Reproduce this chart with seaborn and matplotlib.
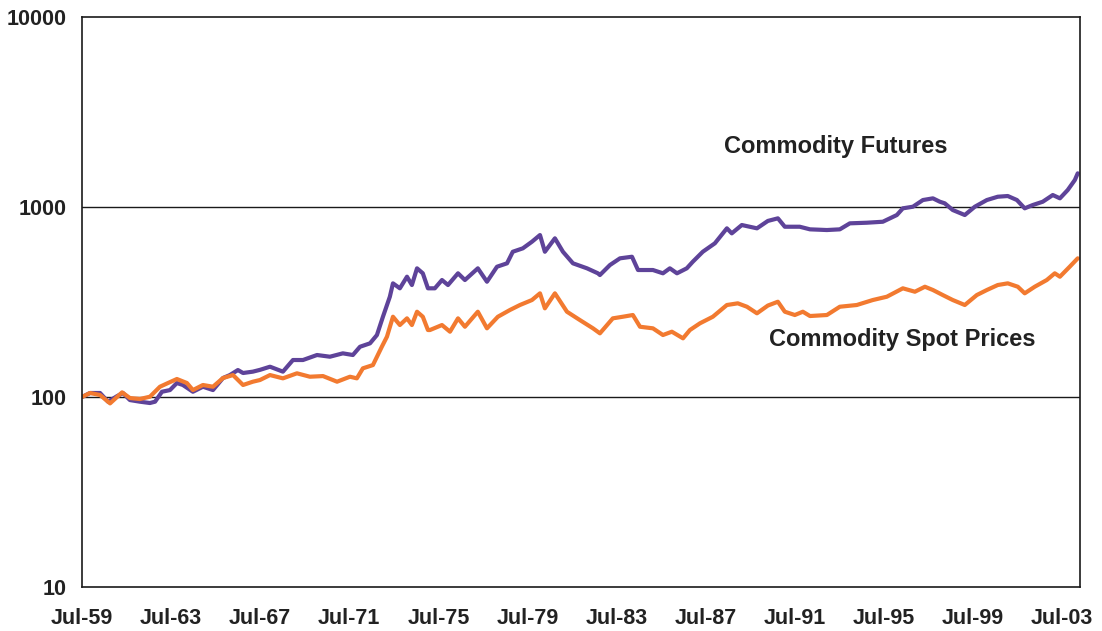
import numpy as np
import pandas as pd
import seaborn as sns
import matplotlib.pyplot as plt

# values (index, log scale, 1959.5 = 100)
fut_year = [1959.5, 1959.86, 1960.31, 1960.67, 1961.07, 1961.34, 1961.65, 1962.10, 1962.55, 1962.78,
            1963.09, 1963.45, 1963.76, 1964.03, 1964.48, 1964.93, 1965.38, 1965.83, 1966.14, 1966.50,
            1966.73, 1967.17, 1967.49, 1967.94, 1968.52, 1968.97, 1969.42, 1970.05, 1970.63, 1971.21,
            1971.66, 1971.98, 1972.43, 1972.74, 1973.01, 1973.32, 1973.46, 1973.77, 1974.09, 1974.31,
            1974.54, 1974.80, 1975.03, 1975.34, 1975.66, 1975.93, 1976.38, 1976.69, 1977.27, 1977.68,
            1978.13, 1978.58, 1978.84, 1979.29, 1979.70, 1980.06, 1980.28, 1980.73, 1981.09, 1981.54,
            1982.17, 1982.66, 1982.75, 1983.20, 1983.65, 1984.19, 1984.46, 1985.13, 1985.58, 1985.89,
            1986.21, 1986.65, 1986.92, 1987.37, 1987.91, 1988.45, 1988.67, 1989.12, 1989.80, 1990.29,
            1990.74, 1991.05, 1991.72, 1992.18, 1992.94, 1993.52, 1993.97, 1994.73, 1995.45, 1996.08,
            1996.35, 1996.80, 1997.25, 1997.70, 1998.01, 1998.23, 1998.59, 1999.13, 1999.58, 2000.12,
            2000.61, 2001.06, 2001.47, 2001.82, 2002.18, 2002.63, 2003.08, 2003.40, 2003.75, 2004.07,
            2004.20]
fut_value = [100, 105, 105, 94.5, 101, 105, 96.4, 94.5, 93, 94.5,
             106.6, 108.8, 118.5, 115.7, 106.6, 113.3, 108.8, 125.9, 130.5, 138.7,
             133.8, 136, 139, 144.4, 136, 156.6, 156.6, 166.4, 163, 169.8,
             166.4, 183.9, 191.7, 212, 264.6, 337.2, 396.6, 373.4, 429.8, 388.6,
             475.8, 447.9, 373.4, 373.4, 412.9, 388.6, 447.9, 412.9, 475.8, 404.4,
             485.1, 505.5, 581.7, 606.2, 656.9, 712.3, 581.7, 684.5, 581.7, 505.5,
             475.8, 447.9, 438.6, 495.1, 537, 547.5, 466.1, 466.1, 447.9, 475.8,
             447.9, 475.8, 515.4, 581.7, 644.2, 772.5, 727, 804.1, 772.5, 845,
             872, 787.6, 787.6, 763.1, 756.7, 763.1, 820.7, 826.8, 836.7, 907.7,
             984.4, 1003.7, 1088.5, 1111.1, 1066.4, 1045.9, 964.3, 907.7, 1003.7, 1088.5,
             1133, 1142.7, 1088.5, 984.4, 1024.5, 1066.4, 1156.6, 1111.1, 1228.8, 1387.3,
             1504.6]

spot_year = [1959.5, 1959.86, 1960.31, 1960.76, 1961.30, 1961.65, 1962.10, 1962.55, 1963.00, 1963.36,
             1963.76, 1964.21, 1964.48, 1964.93, 1965.38, 1965.83, 1966.28, 1966.73, 1967.17, 1967.49,
             1967.94, 1968.52, 1969.15, 1969.73, 1970.32, 1970.95, 1971.53, 1971.84, 1972.11, 1972.56,
             1972.96, 1973.19, 1973.46, 1973.77, 1974.09, 1974.31, 1974.54, 1974.80, 1975.03, 1975.12,
             1975.66, 1976.02, 1976.38, 1976.69, 1977.27, 1977.68, 1978.17, 1978.71, 1979.16, 1979.70,
             1980.06, 1980.28, 1980.73, 1981.27, 1981.85, 1982.44, 1982.75, 1983.33, 1983.78, 1984.23,
             1984.55, 1985.13, 1985.58, 1985.98, 1986.48, 1986.79, 1987.24, 1987.82, 1988.45, 1988.94,
             1989.35, 1989.80, 1990.29, 1990.74, 1991.05, 1991.50, 1991.86, 1992.18, 1992.94, 1993.52,
             1994.28, 1995.00, 1995.63, 1996.35, 1996.89, 1997.34, 1997.70, 1998.14, 1998.59, 1999.13,
             1999.67, 2000.12, 2000.61, 2001.06, 2001.51, 2001.82, 2002.27, 2002.81, 2003.17, 2003.40,
             2003.84, 2004.20]
spot_value = [100, 105, 102.5, 92.6, 105.8, 98.8, 97.6, 100.4, 113.3, 118.5,
              124.4, 118.5, 108.8, 115.7, 113.3, 125.9, 130.5, 115.7, 120.4, 122.9,
              130.5, 125.4, 133.3, 127.9, 128.9, 120.4, 127.9, 125.4, 141.6, 147.3,
              183.9, 207.7, 264.6, 239.3, 259.5, 239.3, 281.2, 264.6, 225.2, 225.2,
              239.3, 220.7, 259.5, 234.4, 281.2, 229.9, 264.6, 287.1, 305, 324,
              351.4, 293, 351.4, 281.2, 254.2, 229.9, 216.4, 259.5, 264.6, 270.2,
              234.4, 229.9, 212, 220.7, 203.7, 225.2, 244.3, 264.6, 305, 311.3,
              298.7, 275.8, 303, 317.4, 281.2, 270.2, 281.2, 266.9, 270.2, 298.7,
              305, 324, 337.2, 373.4, 358.3, 380.6, 365.8, 344.2, 324, 305,
              344.2, 365.8, 388.6, 396.6, 380.6, 351.4, 380.6, 412.9, 447.9, 429.8,
              485.1, 537]

tick_years = [1959.5, 1963.5, 1967.5, 1971.5, 1975.5, 1979.5, 1983.5, 1987.5, 1991.5, 1995.5, 1999.5, 2003.5]
tick_labels = ["Jul-59", "Jul-63", "Jul-67", "Jul-71", "Jul-75", "Jul-79", "Jul-83", "Jul-87",
               "Jul-91", "Jul-95", "Jul-99", "Jul-03"]
y_ticks = [10, 100, 1000, 10000]

fut = pd.DataFrame({"year": fut_year, "value": fut_value})
spot = pd.DataFrame({"year": spot_year, "value": spot_value})

sns.set_style("white")
plt.rcParams["font.family"] = ["Liberation Sans", "DejaVu Sans"]

fig = plt.figure(figsize=(11.02, 6.31), dpi=100)
ax = fig.add_axes([0.0744, 0.0697, 0.9056, 0.9033])

sns.lineplot(data=fut, x="year", y="value", ax=ax, color="#5E4399", linewidth=3.0)
sns.lineplot(data=spot, x="year", y="value", ax=ax, color="#F27A30", linewidth=3.0)

ax.set_yscale("log")
ax.set_ylim(10, 10000)
ax.set_xlim(1959.5, 2004.3)
ax.set_yticks(y_ticks)
ax.set_yticklabels([str(v) for v in y_ticks])
ax.yaxis.set_minor_locator(plt.NullLocator())
ax.set_xticks(tick_years)
ax.set_xticklabels(tick_labels)
ax.set_xlabel("")
ax.set_ylabel("")

for v in [100, 1000]:
    ax.axhline(v, color="#1a1a1a", linewidth=1.0, zorder=0)

for s in ax.spines.values():
    s.set_visible(True)
    s.set_color("#1a1a1a")
    s.set_linewidth(1.2)

ax.tick_params(axis="both", which="major", direction="out", length=6, width=1.0,
               color="#333333", labelsize=15.5, labelcolor="#222222")
ax.tick_params(axis="x", pad=9)
ax.tick_params(axis="y", pad=5)
for lab in ax.get_xticklabels() + ax.get_yticklabels():
    lab.set_fontweight("bold")

ax.text(1993.35, 2070, "Commodity Futures", fontsize=17, fontweight="bold",
        color="#222222", ha="center", va="center")
ax.text(1996.3, 200, "Commodity Spot Prices", fontsize=17, fontweight="bold",
        color="#222222", ha="center", va="center")

fig.savefig("out.png", dpi=100)
